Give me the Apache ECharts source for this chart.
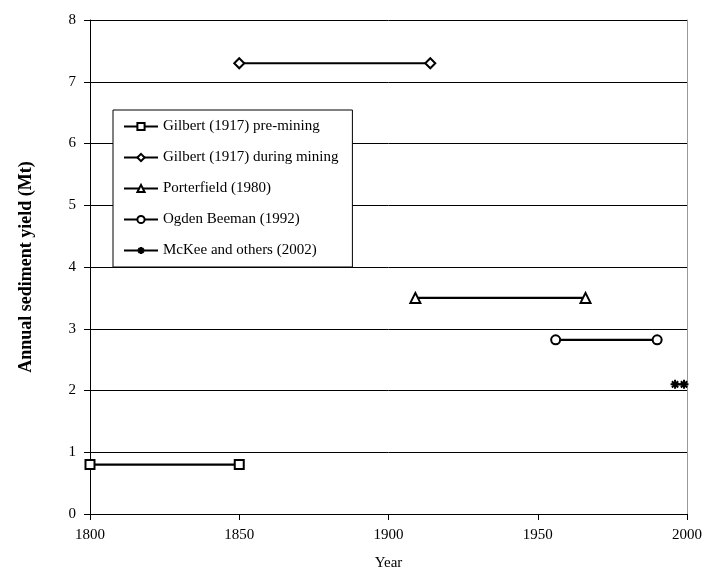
<!doctype html>
<html>
<head>
<meta charset="utf-8" />
<script src="https://cdn.jsdelivr.net/npm/echarts@6/dist/echarts.min.js"></script>
<style>html,body{margin:0;padding:0;background:#fff}#c{width:709px;height:586px}</style>
</head>
<body>
<div id="c"></div>
<script>
let names = ["Gilbert (1917) pre-mining", "Gilbert (1917) during mining", "Porterfield (1980)", "Ogden Beeman (1992)", "McKee and others (2002)"];
let preMining = [[1800, 0.8], [1850, 0.8]];
let duringMining = [[1850, 7.3], [1914, 7.3]];
let porterfield = [[1909, 3.5], [1966, 3.5]];
let ogdenBeeman = [[1956, 2.82], [1990, 2.82]];
let mckee = [[1996, 2.1], [1999, 2.1]];

let star = 'path://M0,-10L0,10M-10,0L10,0M-7,-7L7,7M-7,7L7,-7';
let symbols = ['emptyRect', 'emptyDiamond', 'emptyTriangle', 'emptyCircle', star];
let sizes = [9, 10, 10, 9, 9];
let datasets = [preMining, duringMining, porterfield, ogdenBeeman, mckee];

let font = '"Liberation Serif", "Times New Roman", serif';
let chart = echarts.init(document.getElementById('c'));
chart.setOption({
    animation: false,
    textStyle: { fontFamily: font },
    grid: { left: 90, right: 22, top: 20, bottom: 72, show: false },
    xAxis: {
        type: 'value', min: 1800, max: 2000, interval: 50,
        name: 'Year', nameLocation: 'middle', nameGap: 42,
        nameTextStyle: { fontSize: 15, color: '#000', fontFamily: font },
        axisLine: { lineStyle: { color: '#000' } },
        axisTick: { show: true, length: 6, lineStyle: { color: '#000' } },
        axisLabel: { fontSize: 15, color: '#000', margin: 14, formatter: v => String(v) },
        splitLine: { show: false }
    },
    yAxis: [{
        type: 'value', min: 0, max: 8, interval: 1,
        name: 'Annual sediment yield (Mt)', nameLocation: 'middle', nameGap: 55,
        nameTextStyle: { fontSize: 18, fontWeight: 'bold', color: '#000', fontFamily: font },
        axisLine: { show: true, lineStyle: { color: '#000' } },
        axisTick: { show: true, length: 6, lineStyle: { color: '#000' } },
        axisLabel: { fontSize: 15, color: '#000', margin: 14 },
        splitLine: { lineStyle: { color: '#000', width: 1 } }
    }, {
        type: 'value', min: 0, max: 8, position: 'right',
        axisLine: { show: true, lineStyle: { color: '#999' } },
        axisTick: { show: false }, axisLabel: { show: false }, splitLine: { show: false }
    }],
    legend: {
        orient: 'vertical', left: 113, top: 110,
        backgroundColor: '#fff', borderColor: '#000', borderWidth: 1,
        padding: [9, 14, 9, 10], itemGap: 16, itemWidth: 34, itemHeight: 9,
        textStyle: { fontSize: 15, color: '#000', fontFamily: font },
        data: names
    },
    series: datasets.map((d, i) => ({
        name: names[i], type: 'line', data: d,
        symbol: symbols[i], symbolSize: sizes[i], showAllSymbol: true,
        lineStyle: { color: '#000', width: 2.2 },
        itemStyle: { color: '#000', borderColor: '#000', borderWidth: i === 4 ? 2 : 1 },
        z: 5
    }))
});
</script>
</body>
</html>
